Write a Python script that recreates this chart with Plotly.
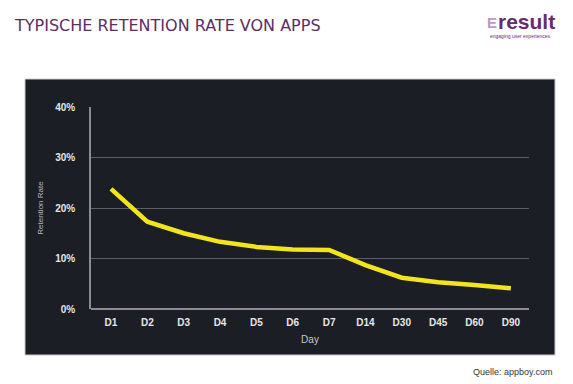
import plotly.graph_objects as go

days = ["D1", "D2", "D3", "D4", "D5", "D6", "D7", "D14", "D30", "D45", "D60", "D90"]
retention = [23.8, 17.3, 15.0, 13.3, 12.3, 11.8, 11.7, 8.7, 6.2, 5.3, 4.75, 4.1]
y_ticks = [0, 10, 20, 30, 40]
y_tick_labels = ["0%", "10%", "20%", "30%", "40%"]

# page body has an 8px default margin; compensate so the figure lands at the window origin
OFF = 8
W, H = 573 - OFF, 384 - OFF
L, R, T, B = 91 - OFF, 44, 107 - OFF, 75
pw, ph = W - L - R, H - T - B


def px(x):
    return (x - OFF - L) / pw


def py(y):
    return (H - B - (y - OFF)) / ph


fig = go.Figure()
fig.add_trace(go.Scatter(
    x=list(range(len(days))), y=retention, mode="lines",
    line=dict(color="#f3e51c", width=4.5), hoverinfo="skip", showlegend=False,
))

fig.add_shape(type="rect", xref="paper", yref="paper",
              x0=px(25), x1=px(555), y0=py(355), y1=py(79),
              fillcolor="#1b1e25", line=dict(color="#c8c8c8", width=1), layer="below")

fig.update_layout(
    width=W, height=H,
    margin=dict(l=L, r=R, t=T, b=B),
    paper_bgcolor="white", plot_bgcolor="rgba(0,0,0,0)",
    font=dict(family="Liberation Sans, Arial", color="#d8d8d8"),
    xaxis=dict(
        range=[-0.55, 11.5], tickmode="array", tickvals=list(range(len(days))),
        ticktext=days, showgrid=False, zeroline=False, showline=False,
        tickfont=dict(size=10, color="#e6e6e6", family="Liberation Sans", weight=700),
        ticks="", ticklabelstandoff=6,
        title=dict(text="Day", font=dict(size=10, color="#c8c8c8"), standoff=8),
    ),
    yaxis=dict(
        range=[0, 40], tickmode="array", tickvals=y_ticks, ticktext=y_tick_labels,
        showgrid=True, gridcolor="#5c5f66", gridwidth=1.3,
        zeroline=True, zerolinecolor="#8a8c90", zerolinewidth=1.5,
        showline=True, linecolor="#8a8c90", linewidth=1.5,
        tickfont=dict(size=10, color="#e6e6e6", family="Liberation Sans", weight=700),
        ticks="", ticklabelstandoff=12,
        title=dict(text="Retention Rate", font=dict(size=8, color="#b8b8b8"), standoff=10),
    ),
    annotations=[
        dict(text="TYPISCHE RETENTION RATE VON APPS", xref="paper", yref="paper",
             x=px(12), y=py(25), xanchor="left", yanchor="middle", showarrow=False,
             font=dict(size=16, color="#5c2d62", family="DejaVu Sans")),
        dict(text="<b>E</b>", xref="paper", yref="paper", x=px(499), y=py(22),
             xanchor="right", yanchor="middle", showarrow=False,
             font=dict(size=15, color="#b99bc0", family="Liberation Sans")),
        dict(text="<b>result</b>", xref="paper", yref="paper", x=px(496), y=py(21),
             xanchor="left", yanchor="middle", showarrow=False,
             font=dict(size=21, color="#6b2a6e", family="Liberation Sans")),
        dict(text="engaging user experiences", xref="paper", yref="paper", x=px(488), y=py(36),
             xanchor="left", yanchor="middle", showarrow=False,
             font=dict(size=5, color="#6b2a6e", family="Liberation Sans")),
        dict(text="Quelle: appboy.com", xref="paper", yref="paper", x=px(554), y=py(372),
             xanchor="right", yanchor="middle", showarrow=False,
             font=dict(size=9, color="#333333", family="Liberation Sans")),
    ],
)

fig.write_html("out.html")
